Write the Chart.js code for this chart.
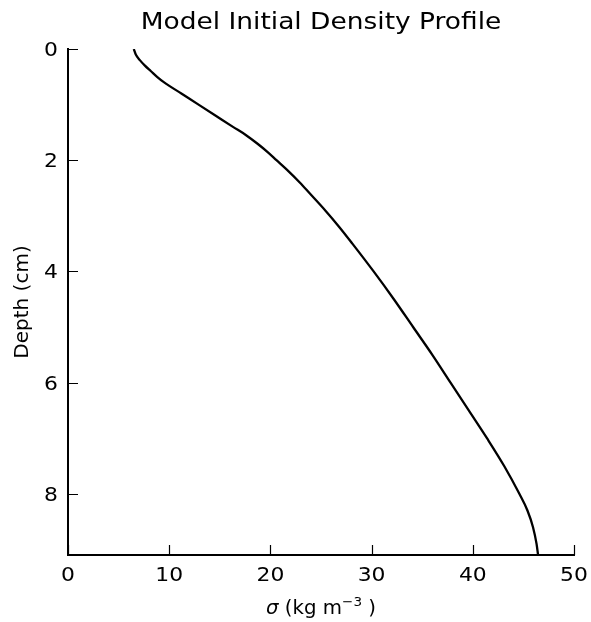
<!DOCTYPE html>
<html>
<head>
<meta charset="utf-8">
<script src="https://cdn.jsdelivr.net/npm/chart.js@4"></script>
<style>
  html, body { margin: 0; padding: 0; background: #fff; }
  canvas { display: block; }
</style>
</head>
<body>
<canvas id="profile" width="591" height="622"></canvas>
<script>
// initial density profile: depth (cm) vs sigma (kg m^-3)
const depth = [0.0, 0.1, 0.2, 0.3, 0.4, 0.5, 0.6, 0.8, 1.0, 1.2, 1.4, 1.55, 1.7, 1.85, 2.0, 2.2, 2.4, 2.6, 2.9, 3.2, 3.5, 4.0, 4.5, 5.0, 5.5, 6.0, 6.5, 7.0, 7.5, 8.0, 8.3, 8.6, 8.9, 9.1];
const sigma = [6.5, 6.7, 7.1, 7.6, 8.2, 8.8, 9.5, 11.2, 12.9, 14.6, 16.3, 17.6, 18.7, 19.7, 20.6, 21.8, 22.9, 23.9, 25.4, 26.8, 28.1, 30.2, 32.2, 34.1, 36.0, 37.8, 39.6, 41.4, 43.1, 44.6, 45.4, 45.95, 46.3, 46.45];
const xTicks = [0, 10, 20, 30, 40, 50];
const yTicks = [0, 2, 4, 6, 8];

const FONT = "'DejaVu Sans', sans-serif";
const SX = 1.15; // horizontal text stretch

function stretchedText(ctx, text, x, y, font, align) {
  ctx.save();
  ctx.font = font;
  ctx.textAlign = align;
  ctx.translate(x, y);
  ctx.scale(SX, 1);
  ctx.fillText(text, 0, 0);
  ctx.restore();
}

// matplotlib-style inward ticks, tick labels, title and axis labels
const decorations = {
  id: 'decorations',
  afterDraw(chart) {
    const ctx = chart.ctx;
    const area = chart.chartArea;
    const xs = chart.scales.x, ys = chart.scales.y;
    ctx.save();
    ctx.strokeStyle = '#000';
    ctx.lineWidth = 1.2;
    ctx.beginPath();
    xTicks.forEach(v => {
      const px = Math.round(xs.getPixelForValue(v)) + 0.5;
      ctx.moveTo(px, area.bottom);
      ctx.lineTo(px, area.bottom - 10);
    });
    yTicks.forEach(v => {
      const py = Math.round(ys.getPixelForValue(v)) + 0.5;
      ctx.moveTo(area.left, py);
      ctx.lineTo(area.left + 10, py);
    });
    ctx.stroke();

    ctx.fillStyle = '#000';
    ctx.textBaseline = 'alphabetic';
    const tickFont = '19px ' + FONT;
    xTicks.forEach(v => {
      stretchedText(ctx, String(v), xs.getPixelForValue(v), area.bottom + 26, tickFont, 'center');
    });
    yTicks.forEach(v => {
      stretchedText(ctx, String(v), area.left - 10, ys.getPixelForValue(v) + 7, tickFont, 'right');
    });

    // title
    const cx = (area.left + area.right) / 2;
    stretchedText(ctx, 'Model Initial Density Profile', cx, 29, '23px ' + FONT, 'center');

    // y axis label
    ctx.save();
    ctx.font = '20px ' + FONT;
    ctx.translate(28, (area.top + area.bottom) / 2);
    ctx.rotate(-Math.PI / 2);
    ctx.textAlign = 'center';
    ctx.fillText('Depth (cm)', 0, 0);
    ctx.restore();

    // x axis label: italic sigma, unit with superscript
    const parts = [
      { t: 'σ', f: 'italic 19px ' + FONT, dy: 0 },
      { t: ' (kg m', f: '19px ' + FONT, dy: 0 },
      { t: '−3', f: '13px ' + FONT, dy: -8 },
      { t: ' )', f: '19px ' + FONT, dy: 0 }
    ];
    let total = 0;
    parts.forEach(p => { ctx.font = p.f; p.w = ctx.measureText(p.t).width; total += p.w; });
    const k = 110 / total;
    ctx.save();
    ctx.translate(cx - 55, 614);
    ctx.scale(k, 1);
    ctx.textAlign = 'left';
    let x = 0;
    parts.forEach(p => {
      ctx.font = p.f;
      ctx.fillText(p.t, x, p.dy);
      x += p.w;
    });
    ctx.restore();
    ctx.restore();
  }
};

new Chart(document.getElementById('profile'), {
  type: 'scatter',
  data: {
    datasets: [{
      data: depth.map((d, i) => ({ x: sigma[i], y: d })),
      showLine: true,
      borderColor: '#000',
      borderWidth: 2.3,
      pointRadius: 0,
      cubicInterpolationMode: 'monotone',
      fill: false
    }]
  },
  options: {
    responsive: false,
    animation: false,
    layout: { padding: { top: 49, right: 17, left: 0, bottom: 0 } },
    plugins: { legend: { display: false }, tooltip: { enabled: false } },
    scales: {
      x: {
        type: 'linear', min: 0, max: 50,
        grid: { display: false, drawTicks: false },
        border: { display: true, color: '#000', width: 2 },
        afterBuildTicks: s => { s.ticks = xTicks.map(v => ({ value: v })); },
        afterFit: s => { s.height = 67; },
        ticks: { display: false }
      },
      y: {
        type: 'linear', min: 0, max: 9.1, reverse: true,
        grid: { display: false, drawTicks: false },
        border: { display: true, color: '#000', width: 2 },
        afterBuildTicks: s => { s.ticks = yTicks.map(v => ({ value: v })); },
        afterFit: s => { s.width = 68; },
        ticks: { display: false }
      }
    }
  },
  plugins: [decorations]
});
</script>
</body>
</html>
